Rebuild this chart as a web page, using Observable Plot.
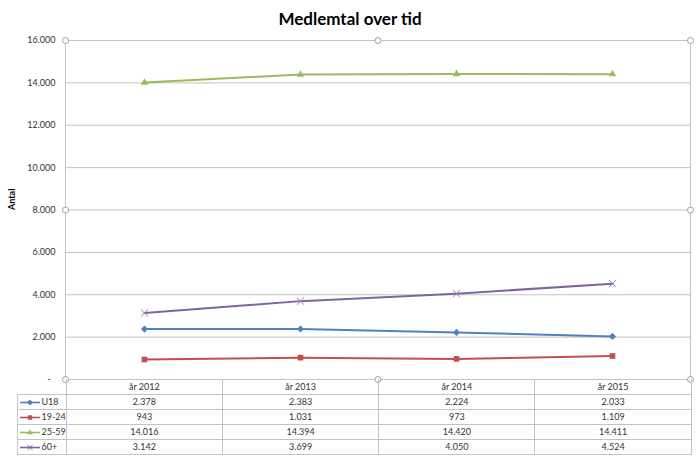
<!DOCTYPE html>
<html>
<head>
<meta charset="utf-8">
<script src="https://cdn.jsdelivr.net/npm/d3@7"></script>
<script src="https://cdn.jsdelivr.net/npm/@observablehq/plot@0.6"></script>
<style>
  html, body { margin: 0; padding: 0; background: #fff; }
  #wrap { position: relative; width: 700px; height: 457px; overflow: hidden; font-family: Lato, "Open Sans", sans-serif; }
  #title { height: 30px; line-height: 38px; text-align: center; font-weight: bold; font-size: 17px; color: #000; }
  #tbl { position: absolute; border-collapse: collapse; font-size: 9px; color: #333; table-layout: fixed; }
  #tbl td { border: 1px solid #c3c3c3; text-align: center; padding: 0; height: 14px; }
  #tbl td.lg { text-align: left; white-space: nowrap; }
  #tbl td.lg svg { vertical-align: middle; margin: 0 1px 0 1px; }
  #tbl td.blank { border-left: none; border-top: none; }
  #tbl tr.hd td { height: 15px; border-top: none; }
</style>
</head>
<body>
<div id="wrap">
  <div id="title">Medlemtal over tid</div>
</div>
<script>
// ---- data ----
const years = ["år 2012", "år 2013", "år 2014", "år 2015"];
const seriesNames = ["U18", "19-24", "25-59", "60+"];
const valuesU18 = [2378, 2383, 2224, 2033];
const values1924 = [943, 1031, 973, 1109];
const values2559 = [14016, 14394, 14420, 14411];
const values60 = [3142, 3699, 4050, 4524];
const yTicks = [0, 2000, 4000, 6000, 8000, 10000, 12000, 14000, 16000];
const yLabel = "Antal";

// ---- styles ----
const seriesColors = ["#4F81BD", "#C0504D", "#9BBB59", "#8064A2"];
const seriesSymbols = ["diamond2", "square2", "triangle2", "times"];
const seriesSizes = [3.2, 3.6, 3.6, 3.4];

const allValues = [valuesU18, values1924, values2559, values60];
const rows = [];
seriesNames.forEach((s, i) => years.forEach((y, j) => rows.push({series: s, year: y, value: allValues[i][j]})));

const fmt = d => d === 0 ? "-\u00a0\u00a0" : d3.format(",")(d).replace(/,/g, ".");

const marks = [
  Plot.gridY(yTicks, {stroke: "#c3c3c3", strokeOpacity: 1}),
  Plot.axisY(yTicks, {tickSize: 0, tickPadding: 10, tickFormat: fmt, label: null, fontSize: 9, fill: "#333"}),
  Plot.axisX({ticks: [], label: null}),
  Plot.frame({stroke: "#c3c3c3"}),
  Plot.text([yLabel], {frameAnchor: "left", text: d => d, rotate: -90, dx: -53, fontWeight: "bold", fontSize: 9, fill: "#000"})
];
seriesNames.forEach((s, i) => {
  const d = rows.filter(r => r.series === s);
  marks.push(Plot.line(d, {x: "year", y: "value", stroke: seriesColors[i], strokeWidth: 2}));
  const isTimes = seriesSymbols[i] === "times";
  marks.push(Plot.dot(d, {x: "year", y: "value", symbol: () => seriesSymbols[i], r: seriesSizes[i],
    fill: isTimes ? "none" : seriesColors[i], stroke: isTimes ? "#9b85b8" : "none", strokeWidth: 1}));
});
["top-left", "top", "top-right", "left", "right", "bottom-left", "bottom", "bottom-right"].forEach(a => {
  marks.push(Plot.dot([0], {frameAnchor: a, r: 3, fill: "white", stroke: "#8aa4b5", strokeWidth: 1}));
});

const plot = Plot.plot({
  width: 700,
  height: 427,
  marginTop: 10,
  marginLeft: 65,
  marginRight: 10,
  marginBottom: 78,
  style: {fontFamily: "Lato, 'Open Sans', sans-serif", background: "white", overflow: "visible"},
  x: {type: "point", domain: years, padding: 0.5},
  y: {domain: [0, 16000]},
  marks
});
const wrap = document.getElementById("wrap");
wrap.appendChild(plot);

// ---- data table under the chart, aligned to the x scale ----
const xs = plot.scale("x");
const colW = (xs.range[1] - xs.range[0]) / years.length;
const plotBottomY = 30 + 427 - 78;
const legendLeft = 17;
const tbl = document.createElement("table");
tbl.id = "tbl";
tbl.style.left = (legendLeft - 0.5) + "px";
tbl.style.top = (plotBottomY - 0.5) + "px";
const cg = document.createElement("colgroup");
[xs.range[0] - legendLeft, ...years.map(() => colW)].forEach(w => {
  const c = document.createElement("col"); c.style.width = w + "px"; cg.appendChild(c);
});
tbl.appendChild(cg);
const hd = document.createElement("tr"); hd.className = "hd";
const b = document.createElement("td"); b.className = "blank"; hd.appendChild(b);
years.forEach(y => { const td = document.createElement("td"); td.textContent = y; hd.appendChild(td); });
tbl.appendChild(hd);
seriesNames.forEach((s, i) => {
  const tr = document.createElement("tr");
  const td0 = document.createElement("td"); td0.className = "lg";
  const sw = d3.create("svg").attr("width", 22).attr("height", 9);
  sw.append("line").attr("x1", 1).attr("x2", 21).attr("y1", 4.5).attr("y2", 4.5).attr("stroke", seriesColors[i]).attr("stroke-width", 1.6);
  const symMap = {diamond2: d3.symbolDiamond2, square2: d3.symbolSquare2, triangle2: d3.symbolTriangle2, times: d3.symbolTimes};
  const isTimes = seriesSymbols[i] === "times";
  sw.append("path").attr("d", d3.symbol(symMap[seriesSymbols[i]], isTimes ? 20 : 24)()).attr("transform", "translate(11,4.5)")
    .attr("fill", isTimes ? "none" : seriesColors[i]).attr("stroke", isTimes ? seriesColors[i] : "none");
  td0.appendChild(sw.node());
  td0.appendChild(document.createTextNode(s));
  tr.appendChild(td0);
  allValues[i].forEach(v => { const td = document.createElement("td"); td.textContent = fmt(v); tr.appendChild(td); });
  tbl.appendChild(tr);
});
wrap.appendChild(tbl);
</script>
</body>
</html>
